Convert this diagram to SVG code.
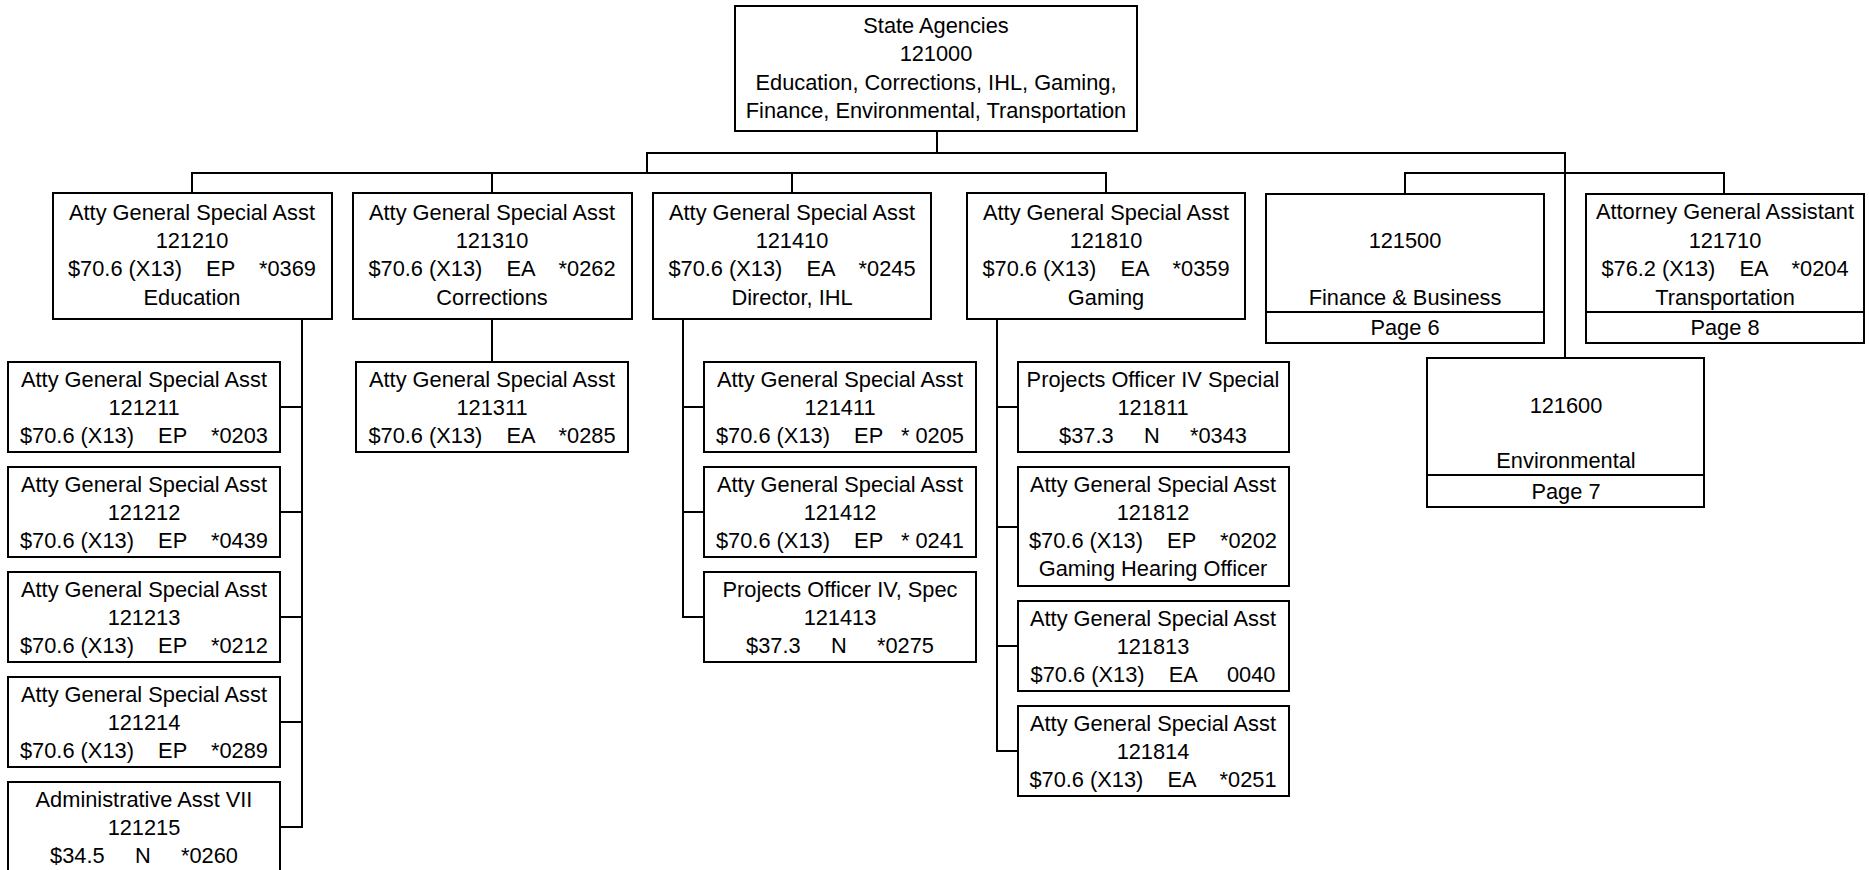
<svg xmlns="http://www.w3.org/2000/svg" width="1869" height="870" viewBox="0 0 1869 870">
<style>
rect{fill:#fff;stroke:#000;stroke-width:2}
.c line,.sep{stroke:#000;stroke-width:2;fill:none}
text{font-family:"Liberation Sans",Arial,sans-serif;font-size:21.8px;fill:#000;text-anchor:middle;white-space:pre}
</style>
<rect x="0" y="0" width="1869" height="870" style="stroke:none"/>
<g class="c" id="connectors">
<line x1="937" y1="131" x2="937" y2="153"/>
<line x1="646" y1="153" x2="1566" y2="153"/>
<line x1="647" y1="153" x2="647" y2="173"/>
<line x1="191" y1="173" x2="1107" y2="173"/>
<line x1="192" y1="173" x2="192" y2="193"/>
<line x1="492" y1="173" x2="492" y2="193"/>
<line x1="792" y1="173" x2="792" y2="193"/>
<line x1="1106" y1="173" x2="1106" y2="193"/>
<line x1="1565" y1="153" x2="1565" y2="358"/>
<line x1="1404" y1="173" x2="1725" y2="173"/>
<line x1="1405" y1="173" x2="1405" y2="194"/>
<line x1="1724" y1="173" x2="1724" y2="194"/>
<line x1="302" y1="319" x2="302" y2="828"/>
<line x1="280" y1="407" x2="302" y2="407"/>
<line x1="280" y1="512" x2="302" y2="512"/>
<line x1="280" y1="617" x2="302" y2="617"/>
<line x1="280" y1="722" x2="302" y2="722"/>
<line x1="280" y1="827" x2="303" y2="827"/>
<line x1="492" y1="319" x2="492" y2="362"/>
<line x1="683" y1="319" x2="683" y2="618"/>
<line x1="682" y1="407" x2="704" y2="407"/>
<line x1="682" y1="512" x2="704" y2="512"/>
<line x1="682" y1="617" x2="704" y2="617"/>
<line x1="997" y1="319" x2="997" y2="752"/>
<line x1="996" y1="407" x2="1018" y2="407"/>
<line x1="996" y1="527" x2="1018" y2="527"/>
<line x1="996" y1="646" x2="1018" y2="646"/>
<line x1="996" y1="751" x2="1018" y2="751"/>
</g>
<g id="n121000">
<rect x="735" y="6" width="402" height="125"/>
<text x="936" y="33">State Agencies</text>
<text x="936" y="61">121000</text>
<text x="936" y="90">Education, Corrections, IHL, Gaming,</text>
<text x="936" y="118">Finance, Environmental, Transportation</text>
</g>
<g id="n121210">
<rect x="53" y="193" width="279" height="126"/>
<text x="192" y="220">Atty General Special Asst</text>
<text x="192" y="248">121210</text>
<text x="192" y="276">$70.6 (X13)    EP    *0369</text>
<text x="192" y="305">Education</text>
</g>
<g id="n121310">
<rect x="353" y="193" width="279" height="126"/>
<text x="492" y="220">Atty General Special Asst</text>
<text x="492" y="248">121310</text>
<text x="492" y="276">$70.6 (X13)    EA    *0262</text>
<text x="492" y="305">Corrections</text>
</g>
<g id="n121410">
<rect x="653" y="193" width="278" height="126"/>
<text x="792" y="220">Atty General Special Asst</text>
<text x="792" y="248">121410</text>
<text x="792" y="276">$70.6 (X13)    EA    *0245</text>
<text x="792" y="305">Director, IHL</text>
</g>
<g id="n121810">
<rect x="967" y="193" width="278" height="126"/>
<text x="1106" y="220">Atty General Special Asst</text>
<text x="1106" y="248">121810</text>
<text x="1106" y="276">$70.6 (X13)    EA    *0359</text>
<text x="1106" y="305">Gaming</text>
</g>
<g id="n121500">
<rect x="1266" y="194" width="278" height="149"/>
<line class="sep" x1="1266" y1="312" x2="1544" y2="312"/>
<text x="1405" y="248">121500</text>
<text x="1405" y="305">Finance &amp; Business</text>
<text x="1405" y="335">Page 6</text>
</g>
<g id="n121710">
<rect x="1586" y="194" width="278" height="149"/>
<line class="sep" x1="1586" y1="312" x2="1864" y2="312"/>
<text x="1725" y="219">Attorney General Assistant</text>
<text x="1725" y="248">121710</text>
<text x="1725" y="276">$76.2 (X13)    EA    *0204</text>
<text x="1725" y="305">Transportation</text>
<text x="1725" y="335">Page 8</text>
</g>
<g id="n121600">
<rect x="1427" y="358" width="277" height="149"/>
<line class="sep" x1="1427" y1="475" x2="1704" y2="475"/>
<text x="1566" y="413">121600</text>
<text x="1566" y="468">Environmental</text>
<text x="1566" y="499">Page 7</text>
</g>
<g id="n121211">
<rect x="8" y="362" width="272" height="90"/>
<text x="144" y="387">Atty General Special Asst</text>
<text x="144" y="415">121211</text>
<text x="144" y="443">$70.6 (X13)    EP    *0203</text>
</g>
<g id="n121212">
<rect x="8" y="467" width="272" height="90"/>
<text x="144" y="492">Atty General Special Asst</text>
<text x="144" y="520">121212</text>
<text x="144" y="548">$70.6 (X13)    EP    *0439</text>
</g>
<g id="n121213">
<rect x="8" y="572" width="272" height="90"/>
<text x="144" y="597">Atty General Special Asst</text>
<text x="144" y="625">121213</text>
<text x="144" y="653">$70.6 (X13)    EP    *0212</text>
</g>
<g id="n121214">
<rect x="8" y="677" width="272" height="90"/>
<text x="144" y="702">Atty General Special Asst</text>
<text x="144" y="730">121214</text>
<text x="144" y="758">$70.6 (X13)    EP    *0289</text>
</g>
<g id="n121215">
<rect x="8" y="782" width="272" height="91"/>
<text x="144" y="807">Administrative Asst VII</text>
<text x="144" y="835">121215</text>
<text x="144" y="863">$34.5     N     *0260</text>
</g>
<g id="n121311">
<rect x="356" y="362" width="272" height="90"/>
<text x="492" y="387">Atty General Special Asst</text>
<text x="492" y="415">121311</text>
<text x="492" y="443">$70.6 (X13)    EA    *0285</text>
</g>
<g id="n121411">
<rect x="704" y="362" width="272" height="90"/>
<text x="840" y="387">Atty General Special Asst</text>
<text x="840" y="415">121411</text>
<text x="840" y="443">$70.6 (X13)    EP   * 0205</text>
</g>
<g id="n121412">
<rect x="704" y="467" width="272" height="90"/>
<text x="840" y="492">Atty General Special Asst</text>
<text x="840" y="520">121412</text>
<text x="840" y="548">$70.6 (X13)    EP   * 0241</text>
</g>
<g id="n121413">
<rect x="704" y="572" width="272" height="90"/>
<text x="840" y="597">Projects Officer IV, Spec</text>
<text x="840" y="625">121413</text>
<text x="840" y="653">$37.3     N     *0275</text>
</g>
<g id="n121811">
<rect x="1018" y="362" width="271" height="90"/>
<text x="1153" y="387">Projects Officer IV Special</text>
<text x="1153" y="415">121811</text>
<text x="1153" y="443">$37.3     N     *0343</text>
</g>
<g id="n121812">
<rect x="1018" y="467" width="271" height="119"/>
<text x="1153" y="492">Atty General Special Asst</text>
<text x="1153" y="520">121812</text>
<text x="1153" y="548">$70.6 (X13)    EP    *0202</text>
<text x="1153" y="576">Gaming Hearing Officer</text>
</g>
<g id="n121813">
<rect x="1018" y="601" width="271" height="90"/>
<text x="1153" y="626">Atty General Special Asst</text>
<text x="1153" y="654">121813</text>
<text x="1153" y="682">$70.6 (X13)    EA     0040</text>
</g>
<g id="n121814">
<rect x="1018" y="706" width="271" height="90"/>
<text x="1153" y="731">Atty General Special Asst</text>
<text x="1153" y="759">121814</text>
<text x="1153" y="787">$70.6 (X13)    EA    *0251</text>
</g>
</svg>
